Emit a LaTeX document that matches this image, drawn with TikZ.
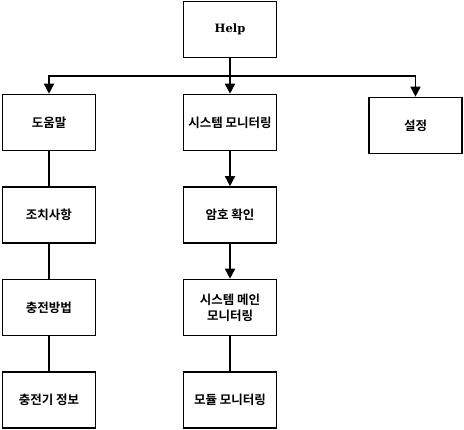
\documentclass[tikz,border=0pt]{standalone}
\usepackage{fontspec}
\setmainfont{DejaVu Serif}
\newfontfamily\kr{Noto Sans CJK KR}[BoldFont={* Bold}]
\usetikzlibrary{arrows.meta}
\begin{document}
\begin{tikzpicture}[x=1pt,y=-1pt,
  box/.style={draw,line width=1.6pt,minimum width=93pt,minimum height=56pt,inner sep=1pt,align=center,font=\kr\bfseries\fontsize{12.5}{16}\selectfont},
  ln/.style={line width=1.6pt},
  arr/.style={ln,-{Triangle[length=10pt,width=10pt]}}]
\useasboundingbox (0,0) rectangle (464,430);
\node[box,font=\bfseries\fontsize{11.5}{13}\selectfont] (help) at (230,29.5) {Help};
\node[box] (a1) at (49,122.5) {도움말};
\node[box] (b1) at (230,122.5) {시스템 모니터링};
\node[box] (c1) at (415.5,125.5) {설정};
\node[box] (a2) at (49,215) {조치사항};
\node[box] (b2) at (230,215) {암호 확인};
\node[box] (a3) at (49,307.5) {충전방법};
\node[box] (b3) at (230,307.5) {시스템 메인\\모니터링};
\node[box] (a4) at (49,400) {충전기 정보};
\node[box] (b4) at (230,400) {모듈 모니터링};
\coordinate (j) at (230,76);
\draw[ln] (help.south) -- (j);
\draw[arr] (j) -| (a1.north);
\draw[arr] (j) -- (b1.north);
\draw[arr] (j) -| (c1.north);
\draw[ln] (a1) -- (a2);
\draw[ln] (a2) -- (a3);
\draw[ln] (a3) -- (a4);
\draw[arr] (b1) -- (b2);
\draw[arr] (b2) -- (b3);
\draw[ln] (b3) -- (b4);
\end{tikzpicture}
\end{document}
